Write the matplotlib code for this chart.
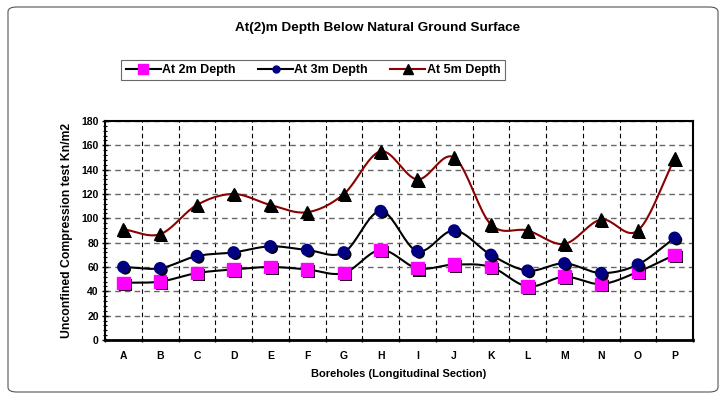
import numpy as np
import matplotlib
matplotlib.use("Agg")
import matplotlib.pyplot as plt
from matplotlib.patches import FancyBboxPatch
from matplotlib.ticker import MultipleLocator
import matplotlib.patheffects as pe

categories = ["A", "B", "C", "D", "E", "F", "G", "H", "I", "J", "K", "L", "M", "N", "O", "P"]
depth_2m = [47, 48, 55, 58, 60, 58, 55, 74, 59, 62, 60, 44, 52, 46, 56, 70]
depth_3m = [60, 59, 69, 72, 77, 74, 72, 106, 73, 90, 70, 57, 63, 55, 62, 84]
depth_5m = [91, 87, 111, 120, 111, 105, 120, 155, 132, 150, 95, 90, 79, 99, 90, 149]

title = "At(2)m Depth Below Natural Ground Surface"
xlabel = "Boreholes (Longitudinal Section)"
ylabel = "Unconfined Compression test Kn/m2"


def smooth(x, y, n=20):
    # Catmull-Rom style curve through points (like a spreadsheet "smoothed line")
    x = np.asarray(x, float); y = np.asarray(y, float)
    px = np.concatenate([[2 * x[0] - x[1]], x, [2 * x[-1] - x[-2]]])
    py = np.concatenate([[2 * y[0] - y[1]], y, [2 * y[-1] - y[-2]]])
    xs, ys = [], []
    for i in range(1, len(px) - 2):
        t = np.linspace(0, 1, n, endpoint=False)
        for arr, out in ((px, xs), (py, ys)):
            p0, p1, p2, p3 = arr[i - 1], arr[i], arr[i + 1], arr[i + 2]
            out.extend(0.5 * ((2 * p1) + (-p0 + p2) * t + (2 * p0 - 5 * p1 + 4 * p2 - p3) * t ** 2
                              + (-p0 + 3 * p1 - 3 * p2 + p3) * t ** 3))
    xs.append(x[-1]); ys.append(y[-1])
    return np.array(xs), np.array(ys)


plt.rcParams["font.family"] = ["Liberation Sans", "DejaVu Sans"]
plt.rcParams["font.weight"] = "bold"

fig = plt.figure(figsize=(7.25, 3.99), dpi=100)
fig.patch.set_facecolor("white")
border = FancyBboxPatch((8 / 725, 7 / 399), 710 / 725, 385 / 399,
                        boxstyle="round,pad=0,rounding_size=0.012",
                        transform=fig.transFigure, fill=False, ec="#555555", lw=0.8)
fig.patches.append(border)

ax = fig.add_axes([105 / 725, (399 - 340) / 399, 588 / 725, 219 / 399])
x = np.arange(len(categories))

shadow = [pe.SimplePatchShadow(offset=(1.5, -1.5), shadow_rgbFace="black", alpha=1.0), pe.Normal()]

series = [
    (depth_2m, "At 2m Depth", "black", "s", "#FF00FF", "#FF00FF", 9),
    (depth_3m, "At 3m Depth", "black", "o", "#000080", "#000080", 8),
    (depth_5m, "At 5m Depth", "#8B0000", "^", "black", "black", 9),
]
handles = []
for ys, lab, lc, mk, mfc, mec, ms in series:
    sx, sy = smooth(x, ys)
    ax.plot(sx, sy, color=lc, lw=1.5, zorder=3)
    ax.plot(x, ys, linestyle="none", marker=mk, ms=ms, mfc=mfc, mec=mec, zorder=4,
            path_effects=shadow)
    h, = ax.plot([], [], color=lc, lw=1.5, marker=mk, ms=ms * 0.85 if mk != "o" else 5,
                 mfc=mfc, mec=mec, label=lab)
    handles.append(h)

ax.set_xlim(-0.5, len(categories) - 0.5)
ax.set_ylim(0, 180)
ax.set_xticks(x)
ax.set_xticklabels(categories, fontsize=7.5, fontweight="bold")
ax.set_xticks(np.arange(-0.5, len(categories), 1), minor=True)
ax.tick_params(axis="x", which="major", length=0, pad=8)
ax.tick_params(axis="x", which="minor", length=3, width=1, direction="inout")
ax.yaxis.set_major_locator(MultipleLocator(20))
ax.yaxis.set_minor_locator(MultipleLocator(4))
ax.tick_params(axis="y", which="major", length=5, width=1, direction="inout", labelsize=7.5, pad=2)
ax.tick_params(axis="y", which="minor", length=3, width=0.8, direction="inout")
for lab in ax.get_yticklabels():
    lab.set_fontweight("bold")

ax.grid(axis="y", which="major", color="#666666", linestyle=(0, (4, 3)), lw=1)
ax.grid(axis="x", which="minor", color="black", linestyle=(0, (4, 3)), lw=0.8)
ax.set_axisbelow(True)

ax.spines["bottom"].set_linewidth(2)
ax.spines["left"].set_linewidth(1.5)
ax.spines["top"].set_linewidth(1.5)
ax.spines["right"].set_linewidth(1.5)

ax.set_xlabel(xlabel, fontsize=8, fontweight="bold", labelpad=6)
ax.set_ylabel(ylabel, fontsize=8.8, fontweight="bold", labelpad=6)

fig.text(378 / 725, 1 - 28 / 399, title, ha="center", va="center",
         fontsize=9.7, fontweight="bold")

leg = fig.legend(handles=handles, loc="center", bbox_to_anchor=(313 / 725, 1 - 70 / 399),
                 ncol=3, frameon=True, fancybox=False, edgecolor="#444444",
                 prop={"size": 9, "weight": "bold"}, handlelength=2.8, handletextpad=0.1,
                 columnspacing=1.8, borderpad=0.35)
leg.get_frame().set_linewidth(0.8)

fig.savefig("out.png", dpi=100)
